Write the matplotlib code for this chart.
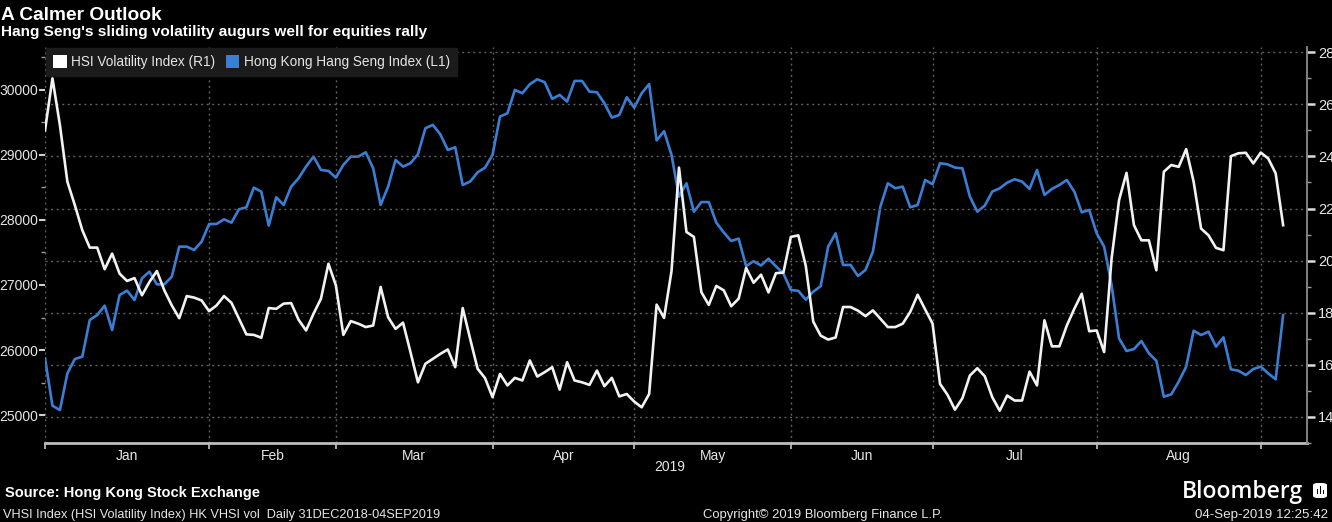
import os
import matplotlib
matplotlib.use('Agg')
import matplotlib.pyplot as plt
from matplotlib import font_manager as fm
from matplotlib.font_manager import FontProperties
from matplotlib.patches import Patch, FancyBboxPatch, Rectangle
from matplotlib.ticker import MultipleLocator, FixedLocator
import numpy as np
import pandas as pd

# ---------------- data ----------------
start_date = '2018-12-31'
end_date = '2019-09-04'
hk_holidays = ['2019-01-01', '2019-02-05', '2019-02-06', '2019-02-07',
               '2019-04-05', '2019-04-19', '2019-04-22', '2019-05-01',
               '2019-05-13', '2019-06-07', '2019-07-01']

# HSI Volatility Index (right axis)
vhsi = [25.0, 27.0, 25.2, 23.03, 22.13, 21.17, 20.5, 20.5, 19.67, 20.27,
        19.5, 19.22, 19.33, 18.67, 19.18, 19.6, 18.86, 18.28, 17.79, 18.64,
        18.58, 18.47, 18.06, 18.28, 18.64, 18.38, 17.77, 17.17, 17.15, 17.04,
        18.18, 18.15, 18.35, 18.37, 17.73, 17.32, 17.96, 18.54, 19.88, 19.05,
        17.15, 17.68, 17.58, 17.45, 17.51, 18.99, 17.83, 17.38, 17.62, 16.49,
        15.33, 16.04, 16.23, 16.42, 16.59, 15.91, 18.18, 17.0, 15.85, 15.49,
        14.76, 15.65, 15.21, 15.5, 15.4, 16.17, 15.55, 15.72, 15.91, 15.05,
        16.1, 15.4, 15.33, 15.23, 15.78, 15.18, 15.5, 14.79, 14.88, 14.59,
        14.37, 14.88, 18.31, 17.8, 19.6, 23.57, 21.1, 20.91, 18.79, 18.3,
        19.03, 18.86, 18.25, 18.54, 19.72, 19.15, 19.46, 18.78, 19.52, 19.54,
        20.91, 20.97, 19.8, 17.66, 17.12, 16.97, 17.05, 18.22, 18.22, 18.08,
        17.87, 18.09, 17.77, 17.45, 17.45, 17.58, 18.03, 18.69, 18.13, 17.58,
        15.27, 14.85, 14.28, 14.72, 15.59, 15.87, 15.56, 14.76, 14.24, 14.82,
        14.63, 14.63, 15.74, 15.21, 17.71, 16.71, 16.71, 17.51, 18.15, 18.73,
        17.29, 17.32, 16.49, 20.08, 22.32, 23.37, 21.36, 20.78, 20.78, 19.63,
        23.41, 23.67, 23.6, 24.28, 23.03, 21.23, 20.97, 20.49, 20.4, 24.01,
        24.12, 24.14, 23.73, 24.15, 23.92, 23.35, 21.36]

# Hong Kong Hang Seng Index (left axis)
hsi = [25872, 25144, 25077, 25641, 25862, 25897, 26462, 26538, 26682, 26308,
       26846, 26913, 26769, 27103, 27205, 27010, 27010, 27128, 27590, 27590,
       27538, 27667, 27938, 27938, 28010, 27959, 28164, 28195, 28497, 28436,
       27913, 28349, 28231, 28513, 28641, 28821, 28974, 28769, 28754, 28651,
       28846, 28974, 28974, 29041, 28795, 28231, 28513, 28923, 28821, 28872,
       29010, 29410, 29462, 29318, 29077, 29118, 28538, 28590, 28733, 28805,
       29000, 29590, 29641, 30000, 29949, 30087, 30164, 30118, 29862, 29923,
       29821, 30138, 30138, 29974, 29964, 29795, 29574, 29615, 29887, 29728,
       29949, 30090, 29223, 29365, 29000, 28359, 28564, 28128, 28275, 28275,
       27960, 27808, 27677, 27713, 27290, 27366, 27300, 27405, 27287, 27177,
       26923, 26910, 26774, 26897, 26982, 27590, 27795, 27308, 27308, 27138,
       27231, 27513, 28205, 28564, 28487, 28513, 28195, 28231, 28615, 28549,
       28872, 28856, 28805, 28795, 28359, 28128, 28221, 28436, 28487, 28574,
       28626, 28590, 28477, 28769, 28385, 28477, 28538, 28615, 28436, 28118,
       28154, 27795, 27590, 27000, 26179, 25985, 26015, 26138, 25949, 25836,
       25282, 25318, 25513, 25744, 26297, 26231, 26282, 26051, 26195, 25703,
       25682, 25615, 25708, 25744, 25641, 25549, 26538]

month_labels = ['Jan', 'Feb', 'Mar', 'Apr', 'May', 'Jun', 'Jul', 'Aug']
year_label = '2019'
series_labels = ['HSI Volatility Index (R1)', 'Hong Kong Hang Seng Index (L1)']

title = 'A Calmer Outlook'
subtitle = "Hang Seng's sliding volatility augurs well for equities rally"
source = 'Source: Hong Kong Stock Exchange'
footer_left = 'VHSI Index (HSI Volatility Index) HK VHSI vol  Daily 31DEC2018-04SEP2019'
footer_mid = 'Copyright\u00a9 2019 Bloomberg Finance L.P.'
footer_right = '04-Sep-2019 12:25:42'

# ---------------- trading-day axis ----------------
dates = pd.bdate_range(start_date, end_date)
dates = dates[~dates.isin(pd.to_datetime(hk_holidays))]
xi = np.arange(len(dates))
per = dates.to_period('M')
boundaries = [i for i in range(len(dates) - 1) if per[i] != per[i + 1]]  # last day of each month
centers = [(boundaries[k] + boundaries[k + 1]) / 2 for k in range(len(month_labels))]

# ---------------- fonts ----------------
installed = {f.name for f in fm.fontManager.ttflist}
NARROW = 'Liberation Sans' if 'Liberation Sans' in installed else 'DejaVu Sans'
NARROW_SCALE = 1.0 if NARROW == 'Liberation Sans' else 0.88


def nfp(size, weight='normal'):
    return FontProperties(family=NARROW, size=size * NARROW_SCALE, weight=weight)


BG = '#000000'
WHITE = '#f2f2f2'
BLUE = '#3a7fd6'
GRID = '#5f5f5f'
TXT = '#e6e6e6'

W, H = 1332, 522
fig = plt.figure(figsize=(W / 100, H / 100), dpi=100, facecolor=BG)
ax = fig.add_axes([45 / W, 1 - 443 / H, (1307 - 45) / W, (443 - 47) / H])
ax.set_facecolor(BG)
ax2 = ax.twinx()

ax.plot(xi, hsi, color=BLUE, lw=1.9, zorder=3)
ax2.plot(xi, vhsi, color=WHITE, lw=1.9, zorder=3)

ax.set_xlim(0, 169.2)
ax.set_ylim(24570, 30660)
ax2.set_ylim(13.0, 28.2)

# x axis
ax.xaxis.set_major_locator(FixedLocator(centers))
ax.set_xticklabels(month_labels)
ax.xaxis.set_minor_locator(FixedLocator(boundaries))
ax.tick_params(axis='x', which='major', length=0, pad=4, colors=TXT)
ax.tick_params(axis='x', which='minor', length=4, width=1.3, color='#b5b5b5', direction='out')
ax.grid(axis='x', which='minor', color=GRID, ls=(0, (1.5, 2.5)), lw=1.0)
for lbl in ax.get_xticklabels():
    lbl.set_fontproperties(nfp(10))

# left axis
ax.yaxis.set_major_locator(MultipleLocator(1000))
ax.yaxis.set_minor_locator(MultipleLocator(500))
ax.tick_params(axis='y', which='major', length=4, width=1.5, color='#cfcfcf', colors=TXT, pad=1)
ax.tick_params(axis='y', which='minor', length=3, width=1.0, color='#9a9a9a')
for lbl in ax.get_yticklabels():
    lbl.set_fontproperties(nfp(10))
    lbl.set_color(TXT)

# right axis
ax2.yaxis.set_major_locator(MultipleLocator(2))
ax2.yaxis.set_minor_locator(MultipleLocator(1))
ax2.tick_params(axis='y', which='major', length=6, width=1.8, color='#dcdcdc', colors=TXT, pad=2)
ax2.tick_params(axis='y', which='minor', length=3, width=1.0, color='#9a9a9a')
for lbl in ax2.get_yticklabels():
    lbl.set_fontproperties(nfp(10.5))
    lbl.set_color(TXT)
ax2.grid(axis='y', which='major', color=GRID, ls=(0, (1.5, 2.5)), lw=1.0)
ax.set_axisbelow(True)
ax2.set_axisbelow(True)

for a in (ax, ax2):
    for s in a.spines.values():
        s.set_visible(False)
ax.spines['bottom'].set_visible(True)
ax.spines['bottom'].set_color('#bdbdbd')
ax.spines['bottom'].set_linewidth(2)
ax2.spines['right'].set_visible(True)
ax2.spines['right'].set_color('#8c8c8c')
ax2.spines['right'].set_linewidth(1.3)

# legend
handles = [Patch(facecolor='white', edgecolor='none'), Patch(facecolor=BLUE, edgecolor='none')]
leg = ax2.legend(handles, series_labels, loc='upper left', bbox_to_anchor=(0.0, 1.0),
                 ncol=2, frameon=True, facecolor='#1b1b1b', edgecolor='#1b1b1b',
                 framealpha=1, fancybox=False, borderaxespad=0.1, borderpad=0.5,
                 handlelength=1.0, handleheight=1.0, handletextpad=0.3,
                 columnspacing=0.8, prop=nfp(9.8))
for t in leg.get_texts():
    t.set_color(TXT)
leg.set_zorder(10)

# texts
fig.text(1 / W, 1 - 20 / H, title, color='white', fontproperties=nfp(13.8, 'bold'),
         va='baseline', ha='left')
fig.text(1 / W, 1 - 36 / H, subtitle, color='white', fontproperties=nfp(11.1, 'bold'),
         va='baseline', ha='left')
fig.text(670 / W, 1 - 467 / H, year_label, color=TXT, fontproperties=nfp(10),
         va='center', ha='center')
fig.text(5 / W, 1 - 497 / H, source, color='white', fontproperties=nfp(10.5, 'bold'),
         va='baseline', ha='left')
fig.text(3 / W, 1 - 518 / H, footer_left, color=TXT, fontproperties=nfp(9.2),
         va='baseline', ha='left')
fig.text(703 / W, 1 - 518 / H, footer_mid, color=TXT, fontproperties=nfp(9.4),
         va='baseline', ha='left')
fig.text(1328 / W, 1 - 518 / H, footer_right, color=TXT, fontproperties=nfp(9.6),
         va='baseline', ha='right')
fig.text(1303 / W, 1 - 498 / H, 'Bloomberg', color='white', fontsize=16.5,
         family=['Open Sans', 'DejaVu Sans'], fontweight='semibold', va='baseline', ha='right')

# small logo glyph
icon = FancyBboxPatch((1313 / W, 1 - 498 / H), 14 / W, 15 / H,
                      boxstyle='round,pad=0,rounding_size=0.004',
                      transform=fig.transFigure, facecolor='white', edgecolor='none')
fig.patches.append(icon)
for bx, bh in [(1316.5, 5), (1319.5, 8), (1322.5, 4)]:
    fig.patches.append(Rectangle((bx / W, 1 - 494 / H), 1.8 / W, bh / H,
                                 transform=fig.transFigure, facecolor='black', edgecolor='none'))

fig.savefig('out.png', dpi=100, facecolor=BG)
